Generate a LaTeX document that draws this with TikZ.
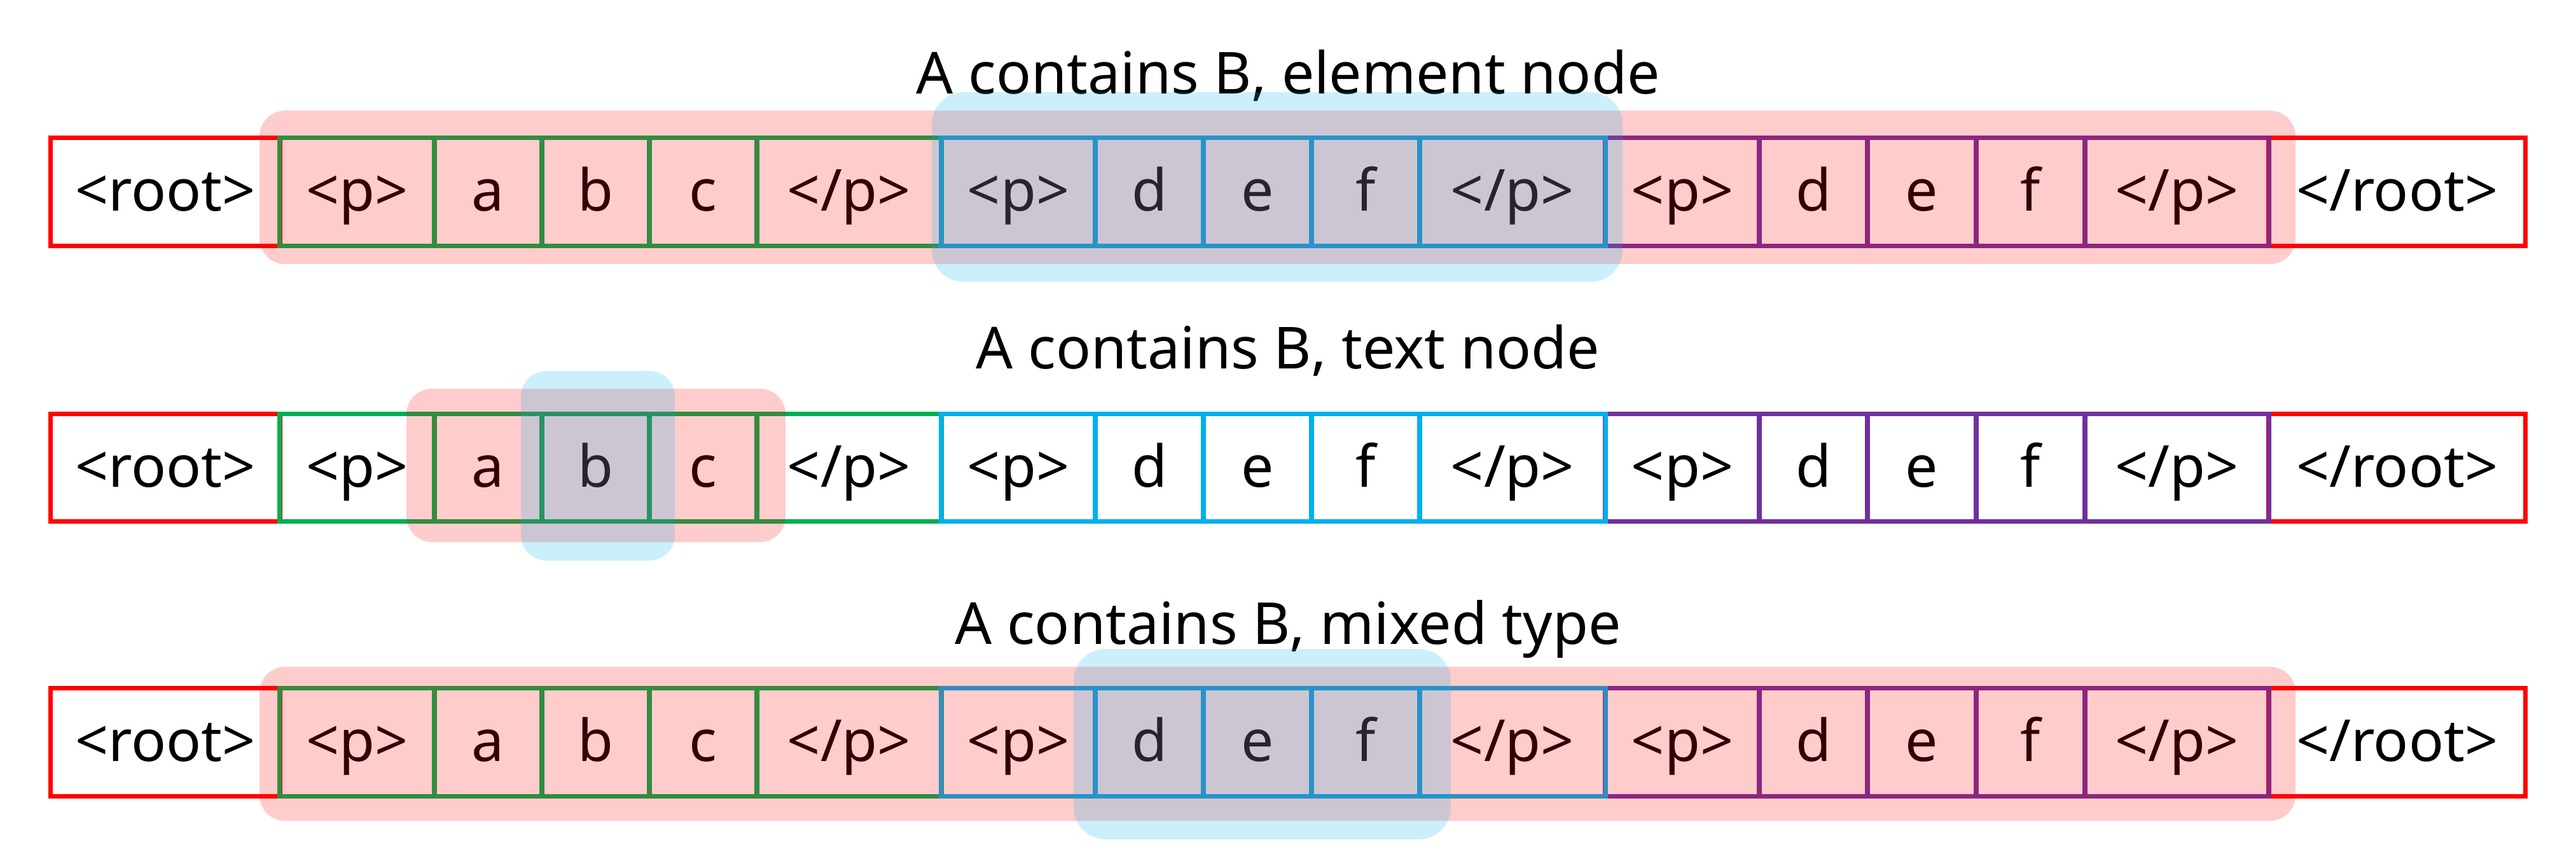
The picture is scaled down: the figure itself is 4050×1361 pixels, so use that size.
\documentclass[tikz,border=0pt]{standalone}
\usepackage{fontspec}
\setmainfont{Noto Sans}
\definecolor{xred}{HTML}{FF0000}
\definecolor{xgreen}{HTML}{00B050}
\definecolor{xcyan}{HTML}{00B0F0}
\definecolor{xpurple}{HTML}{7030A0}
\tikzset{
  cellbox/.style={rectangle, line width=0.07cm, minimum height=1.69cm, inner sep=0pt,
    text height=0.6cm, text depth=0pt, font=\fontsize{25.9}{30}\selectfont, text=black},
  titletext/.style={anchor=base, inner sep=0pt, font=\fontsize{25.9}{30}\selectfont, text=black},
  hlred/.style={fill=xred, fill opacity=0.2, rounded corners=0.4cm},
  hlblueA/.style={fill=xcyan, fill opacity=0.2, rounded corners=0.5cm},
  hlblueB/.style={fill=xcyan, fill opacity=0.2, rounded corners=0.4cm}
}
\newcommand{\cellrow}[2]{%
  \node[cellbox, draw=xred, minimum width=3.60cm] (#1c1) at (260,#2) {<root>};
  \node[cellbox, draw=xred, minimum width=4.03cm] (#1c17) at (3768.5,#2) {</root>};
  \node[cellbox, draw=xgreen, minimum width=2.43cm] (#1c2) at (561.5,#2) {<p>};
  \node[cellbox, draw=xgreen, minimum width=1.69cm] (#1c3) at (767.5,#2) {a};
  \node[cellbox, draw=xgreen, minimum width=1.69cm] (#1c4) at (936.5,#2) {b};
  \node[cellbox, draw=xgreen, minimum width=1.69cm] (#1c5) at (1105.5,#2) {c};
  \node[cellbox, draw=xgreen, minimum width=2.90cm] (#1c6) at (1335,#2) {</p>};
  \node[cellbox, draw=xpurple, minimum width=2.42cm] (#1c12) at (2645,#2) {<p>};
  \node[cellbox, draw=xpurple, minimum width=1.70cm] (#1c13) at (2851,#2) {d};
  \node[cellbox, draw=xpurple, minimum width=1.71cm] (#1c14) at (3021.5,#2) {e};
  \node[cellbox, draw=xpurple, minimum width=1.71cm] (#1c15) at (3192.5,#2) {f};
  \node[cellbox, draw=xpurple, minimum width=2.89cm] (#1c16) at (3422.5,#2) {</p>};
  \node[cellbox, draw=xcyan, minimum width=2.42cm] (#1c7) at (1601,#2) {<p>};
  \node[cellbox, draw=xcyan, minimum width=1.70cm] (#1c8) at (1807,#2) {d};
  \node[cellbox, draw=xcyan, minimum width=1.70cm] (#1c9) at (1977,#2) {e};
  \node[cellbox, draw=xcyan, minimum width=1.70cm] (#1c10) at (2147,#2) {f};
  \node[cellbox, draw=xcyan, minimum width=2.92cm] (#1c11) at (2378,#2) {</p>};
}
\begin{document}
\begin{tikzpicture}[x=0.01cm, y=-0.01cm]
  \useasboundingbox (0,0) rectangle (4050,1361);
  % titles
  \node[titletext] (t1) at (2025,148) {A contains B, element node};
  \node[titletext] (t2) at (2025,580) {A contains B, text node};
  \node[titletext] (t3) at (2025,1012) {A contains B, mixed type};
  % rows of cells
  \cellrow{ra}{301.5}
  \cellrow{rb}{735}
  \cellrow{rc}{1166.5}
  % highlights row 1
  \fill[hlred] (408,174) rectangle (3609,415);
  \fill[hlblueA] (1465,145) rectangle (2551,443);
  % highlights row 2
  \fill[hlred] (639,611) rectangle (1235,852);
  \fill[hlblueB] (819,583) rectangle (1061,881);
  % highlights row 3
  \fill[hlred] (408,1048) rectangle (3609,1290);
  \fill[hlblueA] (1688,1020) rectangle (2281,1319);
\end{tikzpicture}
\end{document}
